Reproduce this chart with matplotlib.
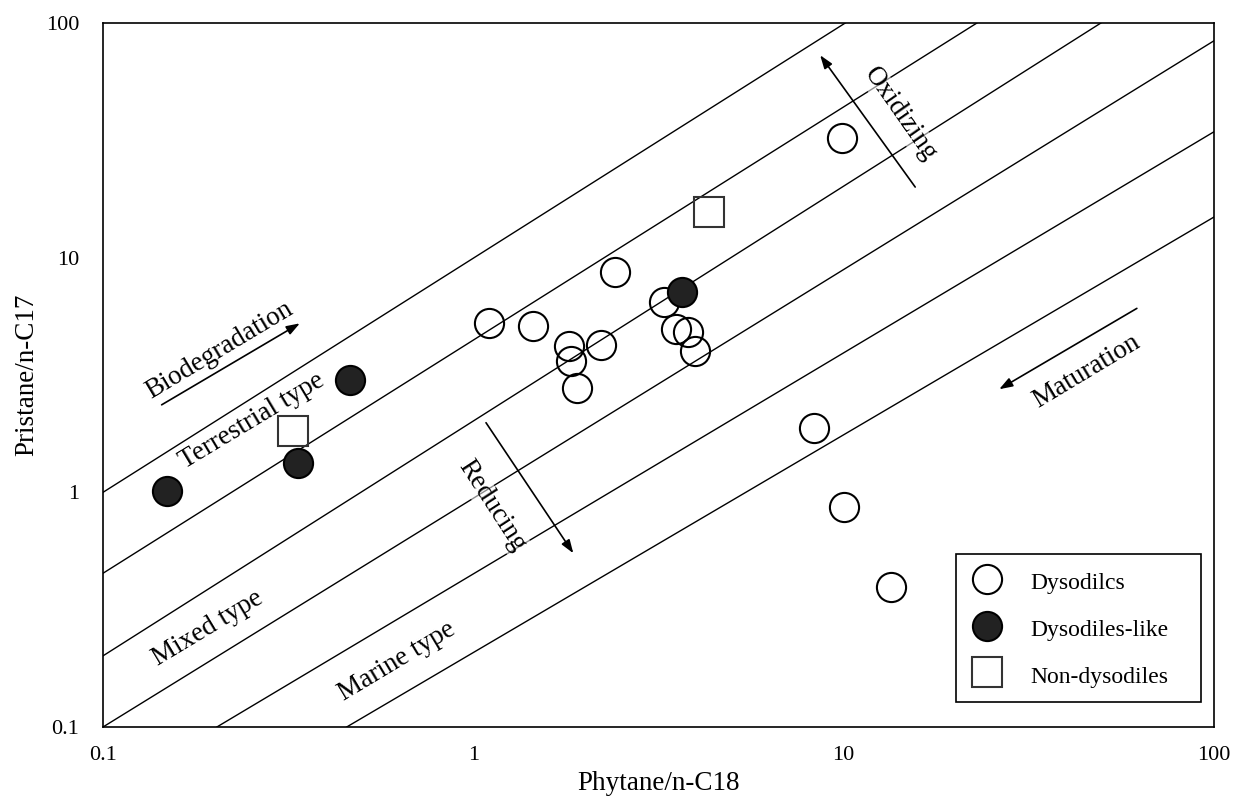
import matplotlib
matplotlib.use("Agg")
import matplotlib.pyplot as plt

plt.rcParams['font.family'] = ['Liberation Serif', 'DejaVu Serif']

# ---- data ----
dys_x = [9.9, 1.10, 1.45, 1.81, 1.84, 1.91, 2.21, 2.41, 3.27, 3.52, 3.81, 3.97, 8.32, 10.0, 13.4]
dys_y = [32.3, 5.26, 5.11, 4.20, 3.64, 2.79, 4.24, 8.71, 6.45, 4.95, 4.84, 4.00, 1.88, 0.866, 0.395]

like_x = [0.149, 0.337, 0.465, 3.65]
like_y = [1.01, 1.34, 3.01, 7.16]

non_x = [0.326, 4.34]
non_y = [1.82, 15.7]

# boundary lines (start/end in data units)
line_x0 = [0.1, 0.1, 0.1, 0.1, 0.203, 0.455]
line_y0 = [1.0, 0.452, 0.201, 0.1, 0.1, 0.1]
line_x1 = [10.1, 22.9, 49.5, 100, 100, 100]
line_y1 = [100, 100, 100, 84, 34.4, 14.9]

tick_vals = [0.1, 1, 10, 100]
tick_labels = ['0.1', '1', '10', '100']

fig = plt.figure(figsize=(12.34, 8.07), dpi=100)
ax = fig.add_axes([103/1234, 1-727/807, (1214-103)/1234, (727-23)/807])
ax.set_xscale('log')
ax.set_yscale('log')
ax.set_xlim(0.1, 100)
ax.set_ylim(0.1, 100)

for x0, y0, x1, y1 in zip(line_x0, line_y0, line_x1, line_y1):
    ax.plot([x0, x1], [y0, y1], color='black', lw=1.0, zorder=1)

ms = 21
ax.plot(dys_x, dys_y, 'o', ms=ms, mfc='none', mec='black', mew=1.5,
        label='Dysodilcs', zorder=3)
ax.plot(like_x, like_y, 'o', ms=ms, mfc='#222222', mec='black', mew=1.5,
        label='Dysodiles-like', zorder=3)
ax.plot(non_x, non_y, 's', ms=ms, mfc='none', mec='#333333', mew=1.5,
        label='Non-dysodiles', zorder=3)

ax.set_xticks(tick_vals)
ax.set_xticklabels(tick_labels)
ax.set_yticks(tick_vals)
ax.set_yticklabels(tick_labels)
ax.minorticks_off()
ax.tick_params(axis='both', length=0, labelsize=16)
ax.tick_params(axis='x', pad=14)
ax.tick_params(axis='y', pad=17)
for s in ax.spines.values():
    s.set_linewidth(1.2)

ax.set_xlabel('Phytane/n-C18', fontsize=19.5, labelpad=4)
ax.set_ylabel('Pristane/n-C17', fontsize=19.5, labelpad=5)

fs = 19.5
rot = 31
ax.text(0.2057, 4.04, 'Biodegradation', fontsize=fs, rotation=rot,
        ha='center', va='center', rotation_mode='anchor')
ax.text(0.2526, 2.01, 'Terrestrial type', fontsize=fs, rotation=rot,
        ha='center', va='center', rotation_mode='anchor')
ax.text(0.192, 0.264, 'Mixed type', fontsize=fs, rotation=rot,
        ha='center', va='center', rotation_mode='anchor')
ax.text(0.622, 0.191, 'Marine type', fontsize=fs, rotation=rot,
        ha='center', va='center', rotation_mode='anchor')
ax.text(45.4, 3.29, 'Maturation', fontsize=fs, rotation=rot,
        ha='center', va='center', rotation_mode='anchor')
tb = dict(facecolor='white', alpha=0.55, edgecolor='none', pad=0.5)
ax.text(14.2, 40.9, 'Oxidizing', fontsize=fs, rotation=-55,
        ha='center', va='center', rotation_mode='anchor', bbox=tb, zorder=2)
ax.text(1.12, 0.874, 'Reducing', fontsize=fs, rotation=-57,
        ha='center', va='center', rotation_mode='anchor', bbox=tb, zorder=2)

ap = dict(arrowstyle='-|>,head_length=0.8,head_width=0.28', color='black', lw=1.2,
          shrinkA=0, shrinkB=0)
ax.annotate('', xy=(0.340, 5.25), xytext=(0.144, 2.36), arrowprops=ap)
ax.annotate('', xy=(8.64, 72.9), xytext=(15.6, 20.0), arrowprops=ap)
ax.annotate('', xy=(1.862, 0.55), xytext=(1.082, 1.98), arrowprops=ap)
ax.annotate('', xy=(26.3, 2.75), xytext=(61.9, 6.08), arrowprops=ap)

leg = ax.legend(loc='lower left',
                bbox_to_anchor=(956/1234, 1-701.7/807, 245/1234, 148/807),
                bbox_transform=fig.transFigure, borderaxespad=0, fontsize=17,
                mode='expand',
                frameon=True, fancybox=False, edgecolor='black',
                handletextpad=1.1, labelspacing=0.88, borderpad=0.6,
                handlelength=1.44, handleheight=1.3, markerscale=1.0)
leg.get_frame().set_linewidth(1.2)
leg.get_frame().set_alpha(1)

fig.savefig('out.png', dpi=100)
